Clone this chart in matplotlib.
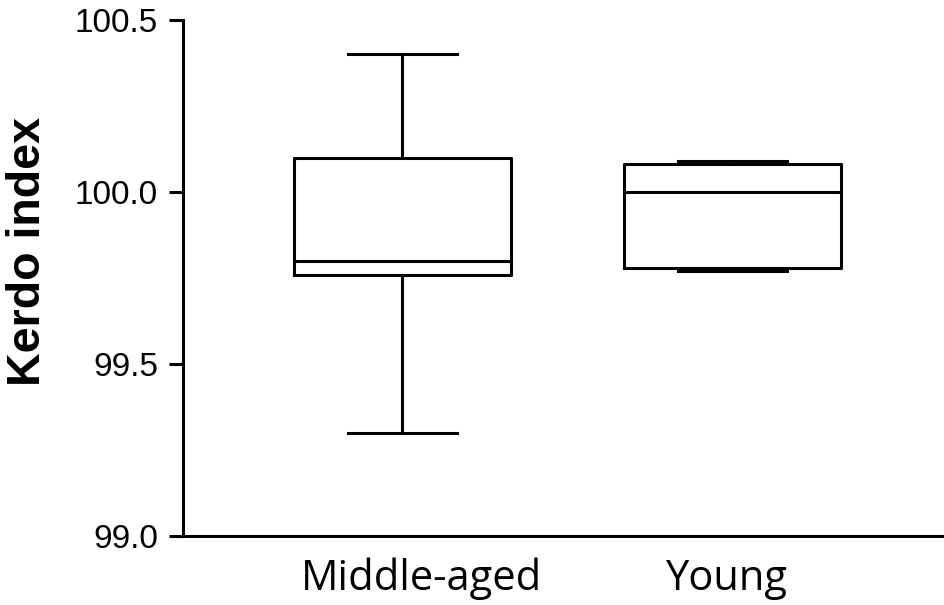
import matplotlib
matplotlib.use("Agg")
import matplotlib.pyplot as plt
import matplotlib.transforms as mtransforms

categories = ["Middle-aged", "Young"]
whisker_low = [99.30, 99.77]
q1 = [99.76, 99.78]
median = [99.80, 100.00]
q3 = [100.10, 100.08]
whisker_high = [100.40, 100.09]
yticks = [99.0, 99.5, 100.0, 100.5]
ytick_labels = ["99.0", "99.5", "100.0", "100.5"]

W, H = 945, 605
fig = plt.figure(figsize=(W / 100, H / 100), dpi=100)
ax = fig.add_axes([183 / W, 1 - 536 / H, (W - 183) / W, (536 - 20) / H])

stats = []
for i, c in enumerate(categories):
    stats.append(dict(label=c, whislo=whisker_low[i], q1=q1[i], med=median[i],
                      q3=q3[i], whishi=whisker_high[i], fliers=[]))

lw = 2.2
positions = [1, 2]
ax.bxp(stats, positions=positions, widths=0.658, showfliers=False,
       boxprops=dict(color="black", linewidth=lw),
       medianprops=dict(color="black", linewidth=lw),
       whiskerprops=dict(color="black", linewidth=lw),
       capprops=dict(color="black", linewidth=lw),
       capwidths=0.33)

ax.set_xlim(0.336, 2.645)
ax.set_ylim(99.0, 100.5)
ax.set_yticks(yticks)
ax.set_yticklabels(ytick_labels, fontsize=24, family="Liberation Sans")
ax.set_xticks(positions)
ax.set_xticklabels([])
ax.tick_params(axis="x", length=0)
ax.tick_params(axis="y", length=10, width=2.2, pad=8)
for s in ["top", "right"]:
    ax.spines[s].set_visible(False)
for s in ["left", "bottom"]:
    ax.spines[s].set_linewidth(2.2)

# category labels (slightly offset from box centres as in the reference)
offsets_px = [19, -6.5]
base = mtransforms.blended_transform_factory(ax.transData, ax.transAxes)
for p, c, off in zip(positions, categories, offsets_px):
    tr = base + mtransforms.ScaledTranslation(off / 100, 0, fig.dpi_scale_trans)
    ax.text(p, -54 / 516, c, transform=tr, ha="center", va="baseline",
            fontsize=30, family="Open Sans")

ax.set_ylabel("Kerdo index", fontsize=33.5, fontweight="bold", family="Liberation Sans")
ax.yaxis.set_label_coords((50 - 183) / (W - 183), (536 - 252) / 516)

fig.savefig("out.png", dpi=100)
